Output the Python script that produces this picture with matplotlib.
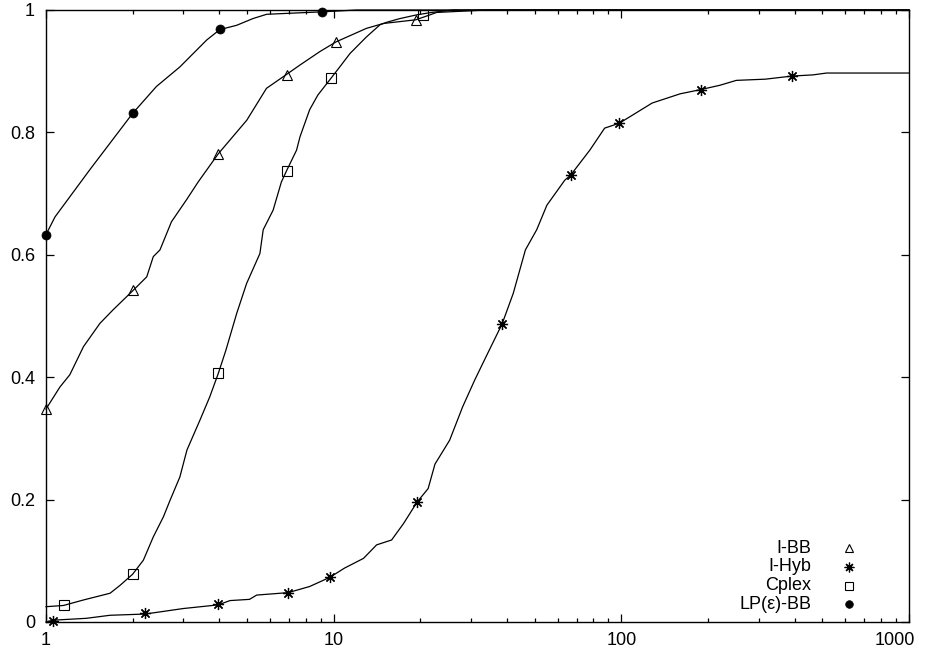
import matplotlib
matplotlib.use("Agg")
import matplotlib.pyplot as plt
from matplotlib.ticker import LogLocator, FixedLocator, NullFormatter
from matplotlib.transforms import ScaledTranslation

plt.rcParams["font.family"] = ["Liberation Sans", "DejaVu Sans"]

# performance profile curves (tau, fraction of problems)
ibb_x = [1, 1.118, 1.21, 1.35, 1.54, 1.71, 2.01, 2.24, 2.36, 2.49, 2.73, 3.08, 3.38,
         3.97, 4.99, 5.84, 6.87, 7.63, 8.95, 10.2, 13.0, 14.9, 19.3, 21.6, 22.8, 34, 1000]
ibb_y = [0.348, 0.384, 0.404, 0.45, 0.488, 0.51, 0.542, 0.564, 0.597, 0.608, 0.654, 0.690, 0.719,
         0.765, 0.820, 0.872, 0.895, 0.910, 0.932, 0.948, 0.970, 0.978, 0.984, 0.992, 0.996, 1.0, 1.0]

ihyb_x = [1, 1.06, 1.38, 1.67, 2.21, 3.0, 3.97, 4.36, 5.1, 5.4, 6.95, 8.25, 9.7, 10.9, 12.7,
          14.1, 15.9, 17.5, 19.5, 21.3, 22.5, 25.3, 28.1, 30.9, 33.9, 38.5, 42.1, 46.4, 50.8,
          55.1, 63.6, 66.6, 77.7, 87.5, 98.4, 128, 160, 189, 220, 251, 317, 391, 464, 517, 1000]
ihyb_y = [0.0, 0.003, 0.006, 0.011, 0.013, 0.022, 0.028, 0.035, 0.037, 0.044, 0.048, 0.058, 0.073,
          0.088, 0.104, 0.126, 0.134, 0.161, 0.196, 0.218, 0.258, 0.297, 0.352, 0.395, 0.434,
          0.487, 0.537, 0.608, 0.641, 0.681, 0.722, 0.730, 0.771, 0.807, 0.815, 0.848, 0.863,
          0.870, 0.877, 0.885, 0.887, 0.892, 0.894, 0.897, 0.897]

cplex_x = [1, 1.15, 1.35, 1.67, 1.81, 2.0, 2.18, 2.36, 2.56, 2.70, 2.92, 3.09, 3.43, 3.71,
           3.97, 4.22, 4.6, 4.98, 5.54, 5.69, 6.16, 6.58, 6.87, 7.43, 7.64, 8.25, 8.81, 9.77,
           10.5, 11.4, 13.0, 14.5, 15.3, 17.0, 19.4, 21.9, 26, 1000]
cplex_y = [0.025, 0.027, 0.036, 0.047, 0.060, 0.078, 0.101, 0.139, 0.172, 0.199, 0.237, 0.281,
           0.330, 0.368, 0.406, 0.444, 0.504, 0.553, 0.602, 0.641, 0.673, 0.719, 0.738, 0.771,
           0.793, 0.837, 0.861, 0.888, 0.907, 0.929, 0.956, 0.976, 0.980, 0.986, 0.992, 0.996,
           1.0, 1.0]

lp_x = [1, 1.075, 1.42, 2.0, 2.42, 2.92, 3.62, 4.02, 4.6, 5.24, 5.85, 9.1, 12, 1000]
lp_y = [0.633, 0.662, 0.739, 0.831, 0.875, 0.907, 0.951, 0.968, 0.975, 0.986, 0.993, 0.997,
        1.0, 1.0]

# points where gnuplot drew the symbols
ibb_mx = [1, 2.01, 3.97, 6.88, 10.2, 19.3]
ibb_my = [0.348, 0.542, 0.765, 0.894, 0.948, 0.984]
ihyb_mx = [1.06, 2.21, 3.97, 6.95, 9.7, 19.5, 38.5, 66.6, 98.4, 189, 391]
ihyb_my = [0.002, 0.0147, 0.029, 0.048, 0.073, 0.196, 0.487, 0.730, 0.815, 0.870, 0.892]
cplex_mx = [1.155, 2.0, 3.97, 6.87, 9.78, 20.5]
cplex_my = [0.027, 0.078, 0.407, 0.737, 0.889, 0.992]
lp_mx = [1, 2.0, 4.02, 9.1]
lp_my = [0.633, 0.832, 0.969, 0.997]

labels = ["I-BB", "I-Hyb", "Cplex", "LP(ε)-BB"]
x_ticks = [1, 10, 100, 1000]
y_ticks = [0, 0.2, 0.4, 0.6, 0.8, 1]

FS = 13

fig = plt.figure(figsize=(9.25, 6.56), dpi=100)
ax = fig.add_axes([46 / 925, 34 / 656, 863 / 925, 612 / 656])

star = (8, 2, 0)
styles = [
    dict(marker="^", ms=7, mfc="none", mec="black", mew=0.8),
    dict(marker=star, ms=8, mfc="none", mec="black", mew=0.9),
    dict(marker="s", ms=7, mfc="none", mec="black", mew=0.8),
    dict(marker="o", ms=6.5, mfc="black", mec="black", mew=0.5),
]
curves = [(ibb_x, ibb_y), (ihyb_x, ihyb_y), (cplex_x, cplex_y), (lp_x, lp_y)]
marks = [(ibb_mx, ibb_my), (ihyb_mx, ihyb_my), (cplex_mx, cplex_my), (lp_mx, lp_my)]

for (cx, cy), (mx, my), st in zip(curves, marks, styles):
    ax.plot(cx, cy, color="black", lw=0.9, clip_on=False, zorder=3)
    ax.plot(mx, my, ls="none", clip_on=False, zorder=4, **st)

ax.set_xscale("log")
ax.set_xlim(1, 1000)
ax.set_ylim(0, 1)

ax.xaxis.set_major_locator(FixedLocator(x_ticks))
ax.xaxis.set_minor_locator(LogLocator(base=10, subs=range(2, 10)))
ax.xaxis.set_minor_formatter(NullFormatter())
ax.set_xticklabels([str(t) for t in x_ticks])
ax.set_yticks(y_ticks)
ax.set_yticklabels(["0", "0.2", "0.4", "0.6", "0.8", "1"])

ax.tick_params(which="both", direction="in", top=True, right=True, width=0.9,
               labelsize=FS, colors="black")
ax.tick_params(which="major", length=6)
ax.tick_params(which="minor", length=3)
ax.tick_params(axis="x", pad=7)
ax.tick_params(axis="y", pad=8)
for sp in ax.spines.values():
    sp.set_linewidth(1.0)

# last x label is pulled in so it stays inside the picture, as gnuplot did
last = ax.get_xticklabels()[-1]
last.set_horizontalalignment("right")
last.set_transform(last.get_transform() + ScaledTranslation(6 / 100, 0, fig.dpi_scale_trans))

# gnuplot style key: right-aligned text, symbol to the right
key_y = [0.1204, 0.0904, 0.0593, 0.0294]
for lab, st, ky in zip(labels, styles, key_y):
    ax.text(0.887, ky, lab, transform=ax.transAxes, ha="right", va="center", fontsize=FS)
    ax.plot([0.931], [ky], transform=ax.transAxes, ls="none", clip_on=False,
            **dict(st, ms=st["ms"] - 1))

plt.savefig("out.png", dpi=100)
